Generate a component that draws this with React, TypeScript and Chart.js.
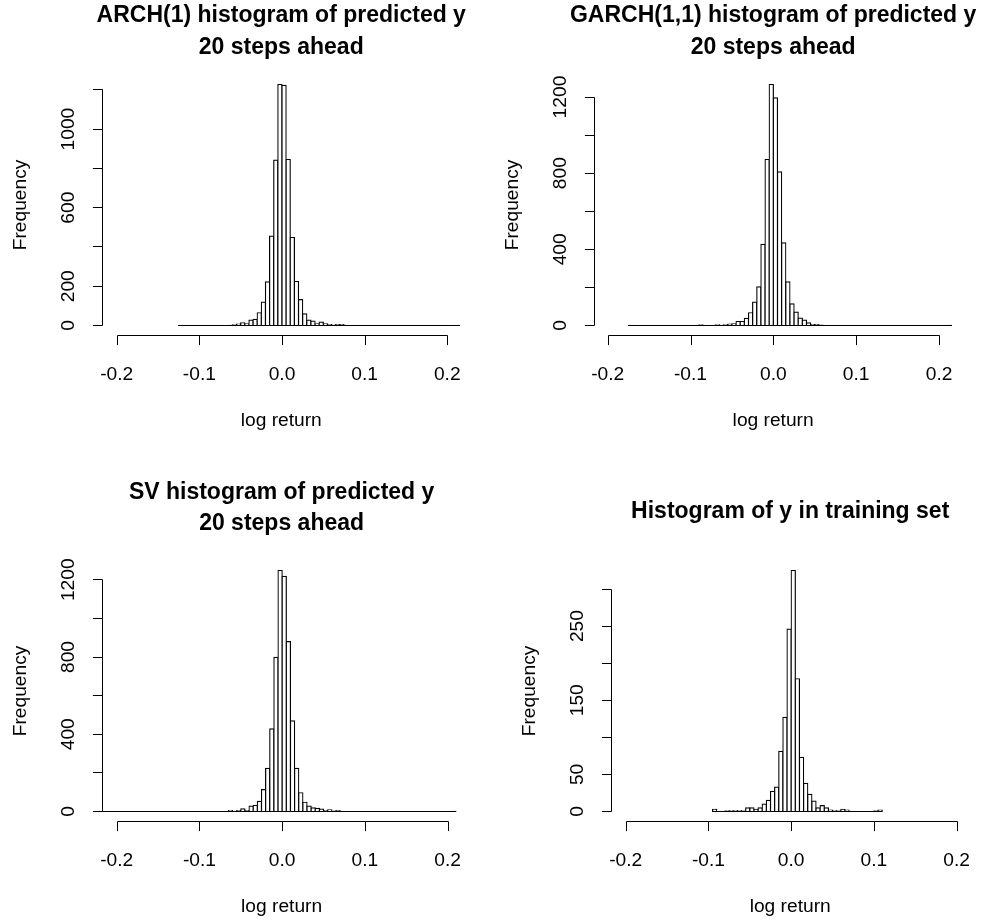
import React, { useEffect, useRef } from "react";
import { Chart, registerables } from "chart.js";

Chart.register(...registerables);

// ---------- data ----------
const BIN_WIDTH = 0.005;

const xTickValues = [-0.2, -0.1, 0.0, 0.1, 0.2];
const xTickLabels = ["-0.2", "-0.1", "0.0", "0.1", "0.2"];

const archTitle = ["ARCH(1) histogram of predicted y", "20 steps ahead"];
const archStart = -0.125;
const archCounts = [
  1, 0, 0, 0, 0, 0, 0, 0, 0, 0, 0, 0,
  1, 3, 7, 14, 8, 27, 31, 65, 119, 222, 455, 842, 1227, 1222, 845, 448, 224,
  132, 59, 27, 22, 8, 17, 8, 5, 2, 5, 5,
  0, 0, 0, 0, 0, 0, 0, 0, 0, 0, 0, 0, 0, 0, 0, 0, 0, 0, 0, 0, 0, 0, 0, 0, 0, 0, 0,
  1,
];
const archYTicks = [0, 200, 400, 600, 800, 1000, 1200];
const archYLabels = [0, 200, 600, 1000];

const garchTitle = ["GARCH(1,1) histogram of predicted y", "20 steps ahead"];
const garchStart = -0.175;
const garchCounts = [
  1, 0, 0, 0, 0, 0, 0, 0, 0, 0, 0, 0, 0, 0, 0, 0, 0,
  3, 0, 0, 0,
  3, 1, 3, 7, 9, 21, 21, 37, 67, 123, 203, 426, 872, 1266, 1196, 807, 434, 229,
  114, 70, 39, 28, 14, 5, 5, 2,
  0, 0, 0, 0, 0, 0, 0, 0, 0, 0, 0, 0, 0, 0, 0, 0, 0, 0, 0, 0, 0, 0, 0, 0, 0, 0, 0, 0, 0, 0,
  1,
];
const garchYTicks = [0, 200, 400, 600, 800, 1000, 1200];
const garchYLabels = [0, 400, 800, 1200];

const svTitle = ["SV histogram of predicted y", "20 steps ahead"];
const svStart = -0.225;
const svCounts = [
  1,
  0, 0, 0, 0, 0, 0, 0, 0, 0, 0, 0, 0, 0, 0, 0, 0, 0, 0, 0, 0, 0, 0, 0, 0, 0, 0, 0, 0, 0, 0, 0,
  5, 0, 5, 14, 5, 28, 31, 52, 113, 223, 428, 798, 1248, 1217, 880, 469, 223, 97,
  48, 28, 19, 16, 12, 5, 9, 2, 5,
  0, 0, 0, 0, 0, 0, 0, 0, 0, 0, 0, 0, 0, 0, 0, 0, 0, 0, 0, 0, 0, 0, 0, 0, 0, 0, 0,
  1,
];
const svYTicks = [0, 200, 400, 600, 800, 1000, 1200];
const svYLabels = [0, 400, 800, 1200];

const trainTitle = ["Histogram of y in training set"];
const trainStart = -0.095;
const trainCounts = [
  3, 0, 0, 1, 1, 1, 1, 1, 5, 5, 3, 5, 10, 15, 27, 33, 81, 127, 246, 325, 179, 73,
  38, 23, 14, 5, 8, 5, 2, 1, 1, 3, 2, 0, 0, 0, 0, 0, 0, 1, 2,
];
const trainYTicks = [0, 50, 100, 150, 200, 250, 300];
const trainYLabels = [0, 50, 150, 250];

const X_LABEL = "log return";
const Y_LABEL = "Frequency";

// ---------- layout (page pixels) ----------
type Panel = {
  title: string[];
  start: number;
  counts: number[];
  yTicks: number[];
  yLabels: number[];
  box: { ox: number; oy: number; w: number; h: number };
  frame: { L: number; R: number; T: number; B: number };
  xMin: number;
  xMax: number;
  titleY: number[];
};

const panels: Panel[] = [
  {
    title: archTitle, start: archStart, counts: archCounts,
    yTicks: archYTicks, yLabels: archYLabels,
    box: { ox: 0, oy: 0, w: 494, h: 462 },
    frame: { L: 102, R: 460.5, T: 74.84, B: 335.14 },
    xMin: -0.2178, xMax: 0.216,
    titleY: [22, 54],
  },
  {
    title: garchTitle, start: garchStart, counts: garchCounts,
    yTicks: garchYTicks, yLabels: garchYLabels,
    box: { ox: 494, oy: 0, w: 495, h: 462 },
    frame: { L: 594, R: 952.3, T: 74.84, B: 335.14 },
    xMin: -0.2165, xMax: 0.216,
    titleY: [22, 54],
  },
  {
    title: svTitle, start: svStart, counts: svCounts,
    yTicks: svYTicks, yLabels: svYLabels,
    box: { ox: 0, oy: 462, w: 494, h: 462 },
    frame: { L: 102.3, R: 460.9, T: 560.84, B: 821.14 },
    xMin: -0.2174, xMax: 0.216,
    titleY: [499, 530],
  },
  {
    title: trainTitle, start: trainStart, counts: trainCounts,
    yTicks: trainYTicks, yLabels: trainYLabels,
    box: { ox: 494, oy: 462, w: 495, h: 462 },
    frame: { L: 610.5, R: 969.9, T: 560.84, B: 821.14 },
    xMin: -0.2184, xMax: 0.216,
    titleY: [518],
  },
];

const AXIS_FONT = '19.2px "Liberation Sans", Arial, sans-serif';
const TITLE_FONT = 'bold 23px "Liberation Sans", Arial, sans-serif';
const TICK_LEN = 9.6;
const LINE_COLOR = "#000000";

function makeAxesPlugin(p: Panel) {
  return {
    id: "rAxes",
    afterDraw(chart: any) {
      const ctx = chart.ctx as CanvasRenderingContext2D;
      const xs = chart.scales.x;
      const ys = chart.scales.y;
      const a = chart.chartArea;
      ctx.save();
      ctx.strokeStyle = LINE_COLOR;
      ctx.fillStyle = "#000";
      ctx.lineWidth = 1;

      // x axis
      const yAx = Math.round(a.bottom) + 0.5;
      const xp = xTickValues.map((v) => Math.round(xs.getPixelForValue(v)) + 0.5);
      ctx.beginPath();
      ctx.moveTo(xp[0], yAx);
      ctx.lineTo(xp[xp.length - 1], yAx);
      xp.forEach((px) => {
        ctx.moveTo(px, yAx);
        ctx.lineTo(px, yAx + TICK_LEN);
      });
      ctx.stroke();

      // y axis
      const xAx = Math.round(a.left) + 0.5;
      const yp = p.yTicks.map((v) => Math.round(ys.getPixelForValue(v) - 0.5) + 0.5);
      ctx.beginPath();
      ctx.moveTo(xAx, yp[0]);
      ctx.lineTo(xAx, yp[yp.length - 1]);
      yp.forEach((py) => {
        ctx.moveTo(xAx, py);
        ctx.lineTo(xAx - TICK_LEN, py);
      });
      ctx.stroke();

      ctx.font = AXIS_FONT;
      ctx.textAlign = "center";
      ctx.textBaseline = "alphabetic";
      xTickValues.forEach((v, i) => {
        ctx.fillText(xTickLabels[i], xs.getPixelForValue(v), a.bottom + 44.5);
      });
      ctx.fillText(X_LABEL, (a.left + a.right) / 2, a.bottom + 91);

      p.yLabels.forEach((v) => {
        ctx.save();
        ctx.translate(a.left - 28, ys.getPixelForValue(v));
        ctx.rotate(-Math.PI / 2);
        ctx.fillText(String(v), 0, 0);
        ctx.restore();
      });
      ctx.save();
      ctx.translate(a.left - 76, (a.top + a.bottom) / 2);
      ctx.rotate(-Math.PI / 2);
      ctx.fillText(Y_LABEL, 0, 0);
      ctx.restore();

      ctx.font = TITLE_FONT;
      p.title.forEach((line, i) => {
        ctx.fillText(line, (a.left + a.right) / 2, p.titleY[i] - p.box.oy);
      });
      ctx.restore();
    },
  };
}

function HistPanel({ p }: { p: Panel }) {
  const ref = useRef<HTMLCanvasElement | null>(null);
  useEffect(() => {
    const canvas = ref.current;
    if (!canvas) return;
    const bins = p.counts.map((c, i) => ({ x: p.start + BIN_WIDTH * (i + 0.5), y: c }));
    const ymax = Math.max(...p.counts);
    const { ox, oy, w, h } = p.box;
    const { L, R, T, B } = p.frame;
    const chart = new Chart(canvas, {
      type: "bar",
      data: {
        datasets: [
          {
            type: "bar",
            data: bins as any,
            backgroundColor: "#ffffff",
            borderColor: LINE_COLOR,
            borderWidth: 1.2,
            borderSkipped: false,
            inflateAmount: 0.6,
            barPercentage: 1,
            categoryPercentage: 1,
            order: 1,
          } as any,
          {
            type: "line",
            data: [
              { x: p.start, y: 0 },
              { x: p.start + BIN_WIDTH * p.counts.length, y: 0 },
            ] as any,
            borderColor: LINE_COLOR,
            borderWidth: 1.2,
            pointRadius: 0,
            order: 0,
          } as any,
        ],
      },
      options: {
        responsive: false,
        animation: false,
        events: [],
        layout: {
          padding: { left: L - ox, right: ox + w - R, top: T - oy, bottom: oy + h - B },
        },
        scales: {
          x: { type: "linear", display: false, min: p.xMin, max: p.xMax, offset: false },
          y: { type: "linear", display: false, min: -0.04 * ymax, max: 1.04 * ymax },
        },
        plugins: {
          legend: { display: false },
          tooltip: { enabled: false },
          title: { display: false },
        },
      } as any,
      plugins: [makeAxesPlugin(p)],
    });
    return () => chart.destroy();
  }, [p]);
  return (
    <canvas
      ref={ref}
      width={p.box.w}
      height={p.box.h}
      style={{ position: "absolute", left: p.box.ox, top: p.box.oy, width: p.box.w, height: p.box.h }}
    />
  );
}

export default function App() {
  return (
    <div style={{ position: "absolute", left: 0, top: 0, width: 989, height: 924, background: "#ffffff" }}>
      {panels.map((p, i) => (
        <HistPanel key={i} p={p} />
      ))}
    </div>
  );
}
